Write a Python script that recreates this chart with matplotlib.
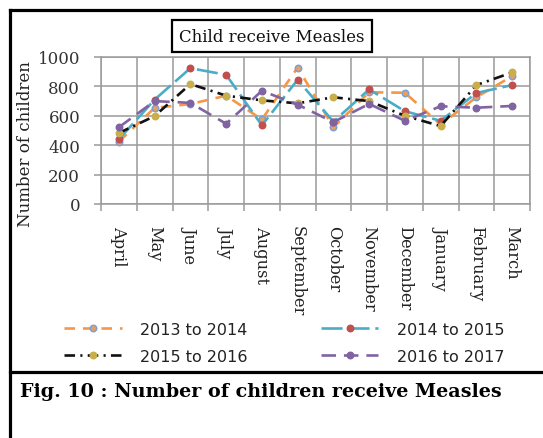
import matplotlib
matplotlib.use("Agg")
import matplotlib.pyplot as plt
from matplotlib.lines import Line2D
import numpy as np

months = ["April", "May", "June", "July", "August", "September", "October",
          "November", "December", "January", "February", "March"]

series_labels = ["2013 to 2014", "2014 to 2015", "2015 to 2016", "2016 to 2017"]

y2013 = [425, 654, 680, 737, 575, 928, 522, 760, 757, 540, 726, 870]
y2014 = [440, 710, 924, 879, 535, 845, 560, 780, 631, 566, 755, 809]
y2015 = [483, 598, 816, 737, 705, 685, 726, 700, 600, 530, 809, 895]
y2016 = [522, 700, 688, 546, 770, 676, 557, 681, 566, 665, 655, 667]

yticks = [0, 200, 400, 600, 800, 1000]

W, H = 543, 439
fig = plt.figure(figsize=(W / 100, H / 100), dpi=100)
fig.patch.set_facecolor("white")

# plot area in pixel coordinates
left, right, top, bottom = 101, 530, 58, 205
ax = fig.add_axes([left / W, 1 - bottom / H, (right - left) / W, (bottom - top) / H])

x = np.arange(len(months))
styles = [
    dict(data=y2013, color="#F79646", dashes=(4, 3), mfc="#E8A060", mec="#7F9ED2"),
    dict(data=y2014, color="#4BACC6", dashes=(8, 2.2), mfc="#C0504D", mec="#C0504D"),
    dict(data=y2015, color="#111111", dashes=(4, 2, 0.8, 2), mfc="#C9AE4A", mec="#C9AE4A"),
    dict(data=y2016, color="#8064A2", dashes=(5.5, 3), mfc="#8064A2", mec="#8064A2"),
]
handles = []
for s, lab in zip(styles, series_labels):
    ln, = ax.plot(x, s["data"], color=s["color"], lw=1.9, dashes=s["dashes"],
                  marker="o", ms=4.6, mfc=s["mfc"], mec=s["mec"], mew=1.1,
                  label=lab)
    handles.append(ln)

ax.set_xlim(-0.5, len(months) - 0.5)
ax.set_ylim(0, 1000)
ax.set_yticks(yticks)
ax.set_yticklabels([str(v) for v in yticks])

ax.set_xticks(x)
ax.set_xticklabels(months, rotation=-90, va="top", ha="center")
ax.set_xticks(np.arange(-0.5, len(months), 1.0), minor=True)

grid_c = "#9A9A9A"
ax.grid(axis="y", which="major", color=grid_c, lw=1.1)
ax.grid(axis="x", which="minor", color=grid_c, lw=1.1)
ax.set_axisbelow(True)
for sp in ax.spines.values():
    sp.set_color(grid_c)
    sp.set_linewidth(1.1)

serif = "DejaVu Serif"
ax.tick_params(axis="x", which="major", length=0, pad=15, labelsize=11.7,
               labelcolor="#222222")
ax.tick_params(axis="x", which="minor", length=5, color=grid_c, width=1.1)
ax.tick_params(axis="y", which="major", length=5, color=grid_c, width=1.1,
               pad=10, labelsize=12, labelcolor="#333333")
for lbl in ax.get_xticklabels() + ax.get_yticklabels():
    lbl.set_fontfamily(serif)

fig.text(26 / W, 1 - 144 / H, "Number of children", rotation=90,
         ha="center", va="center", fontsize=12, family=serif, color="#222222")

# chart title in a framed box
fig.text(272 / W, 1 - 37 / H, "Child receive Measles", ha="center", va="center",
         fontsize=12, family=serif, color="#111111",
         bbox=dict(boxstyle="square,pad=0.45", fc="white", ec="black", lw=1.6))

# legend below the plot: two columns, two rows
order = [0, 2, 1, 3]
fig.legend([handles[i] for i in order], [series_labels[i] for i in order],
           ncol=2, loc="upper left", bbox_to_anchor=(64 / W, 1 - 323 / H),
           frameon=False, borderpad=0, borderaxespad=0,
           handlelength=3.6, handletextpad=1.15, columnspacing=4.6,
           labelspacing=0.75, prop=dict(family="DejaVu Sans", size=11.5),
           labelcolor="#222222")

# outer frame lines
lw_frame = 2.3
fig.add_artist(Line2D([10 / W, 10 / W], [0, 1 - 11 / H], transform=fig.transFigure,
                      color="black", lw=lw_frame))
fig.add_artist(Line2D([10 / W, 1], [1 - 11 / H, 1 - 11 / H], transform=fig.transFigure,
                      color="black", lw=lw_frame))
fig.add_artist(Line2D([10 / W, 1], [1 - 373 / H, 1 - 373 / H], transform=fig.transFigure,
                      color="black", lw=lw_frame))

fig.text(20 / W, 1 - 392 / H, "Fig. 10 : Number of children receive Measles",
         ha="left", va="center", fontsize=13.8, family="DejaVu Serif",
         fontweight="bold", color="black")

fig.savefig("out.png", dpi=100, facecolor="white")
